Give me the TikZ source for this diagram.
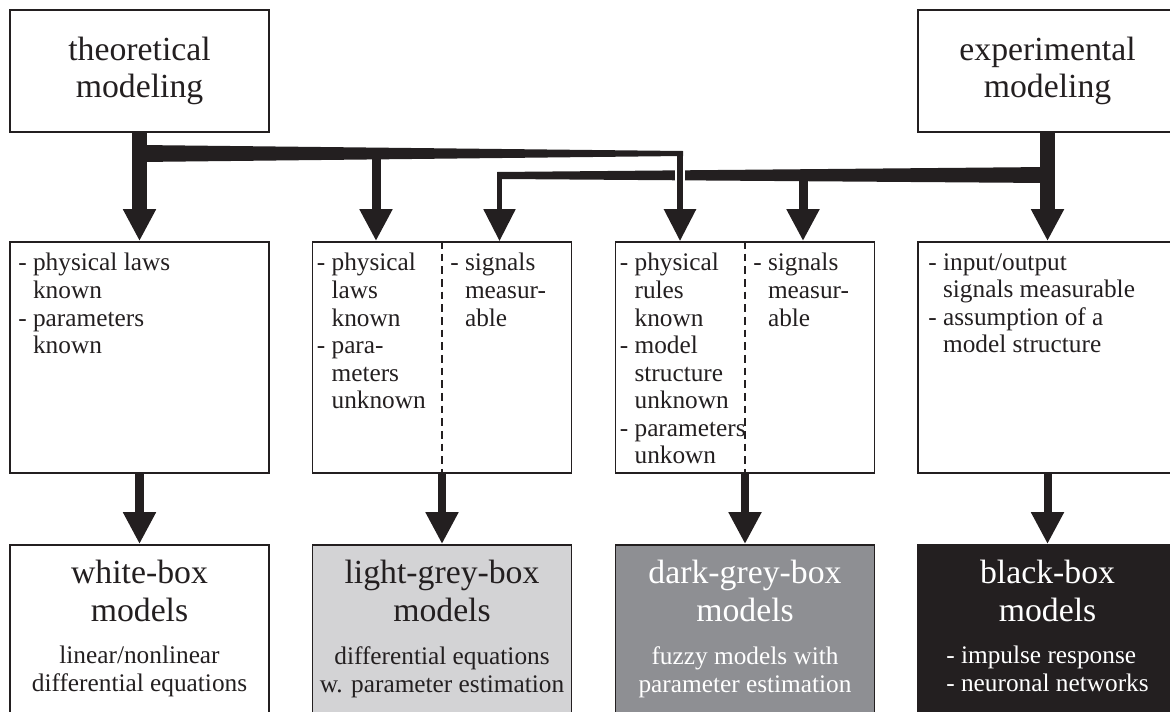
\documentclass[tikz,border=0pt]{standalone}
\usepackage{fontspec}
\setmainfont{Liberation Serif}
\usepackage{tikz}
\usetikzlibrary{calc,arrows.meta}
\definecolor{ink}{RGB}{35,31,32}
\definecolor{lightgrey}{RGB}{211,211,213}
\definecolor{darkgrey}{RGB}{142,143,147}
\newcommand*{\ind}{\hphantom{- }}
\tikzset{%
  box/.style={draw=ink, line width=1.3, rectangle, inner sep=0pt, minimum width=6.475cm},% every box
  source/.style={box, minimum height=3.05cm, align=center, text=ink, font=\fontsize{24}{26.5}\selectfont},% modeling kind
  facts/.style={box, minimum height=5.775cm},% what is known
  result/.style={box, minimum height=5cm},% model class
  listtext/.style={anchor=north west, inner sep=0pt, align=left, text=ink, font=\fontsize{18}{19.6}\selectfont},
  boxname/.style={anchor=north, inner sep=0pt, align=center, font=\fontsize{24}{27}\selectfont},
  boxnote/.style={anchor=north, inner sep=0pt, align=center, font=\fontsize{18}{19.8}\selectfont},
  divider/.style={draw=ink, line width=1, dash pattern=on 5.5pt off 3.5pt},
  flow/.style={draw=ink, -{Triangle[width=22pt,length=22.7pt]}}% thick arrows
}

\begin{document}
\begin{tikzpicture}[x=0.025cm, y=-0.025cm]
\clip (0,0) rectangle (1170,711);

\node[source] (theo) at (139.5, 71) {theoretical\\modeling};
\node[source] (exper) at (1047.5, 71) {experimental\\modeling};

\node[facts] (b1) at (139.5, 357.5) {};
\node[facts] (b2) at (442, 357.5) {};
\node[facts] (b3) at (745, 357.5) {};
\node[facts] (b4) at (1047.5, 357.5) {};
\draw[divider] (b2.north) -- (b2.south);
\draw[divider] (b3.north) -- (b3.south);

\node[listtext] (k1) at ($(b1.north west)+(9,12)$) {- physical laws\\\ind known\\- parameters\\\ind known};
\node[listtext] (k2) at ($(b2.north west)+(5,12)$) {- physical\\\ind laws\\\ind known\\- para-\\\ind meters\\\ind unknown};
\node[listtext] (s2) at ($(b2.north)+(8,12)$) {- signals\\\ind measur-\\\ind able};
\node[listtext] (k3) at ($(b3.north west)+(5,12)$) {- physical\\\ind rules\\\ind known\\- model\\\ind structure\\\ind unknown\\- parameters\\\ind unkown};
\node[listtext] (s3) at ($(b3.north)+(8,12)$) {- signals\\\ind measur-\\\ind able};
\node[listtext] (k4) at ($(b4.north west)+(11,12)$) {- input/output\\\ind signals measurable\\- assumption of a\\\ind model structure};

\node[result] (w1) at (139.5, 645) {};
\node[result, fill=lightgrey] (w2) at (442, 645) {};
\node[result, fill=darkgrey] (w3) at (745, 645) {};
\node[result, fill=ink] (w4) at (1047.5, 645) {};

\node[boxname, text=ink] (n1) at ($(w1.north)+(0,16)$) {white-box\\models};
\node[boxname, text=ink] (n2) at ($(w2.north)+(0,16)$) {light-grey-box\\models};
\node[boxname, text=white] (n3) at ($(w3.north)+(0,16)$) {dark-grey-box\\models};
\node[boxname, text=white] (n4) at ($(w4.north)+(0,16)$) {black-box\\models};
\node[boxnote, text=ink] (m1) at ($(w1.north)+(0,102)$) {linear/nonlinear\\differential equations};
\node[boxnote, text=ink] (m2) at ($(w2.north)+(0,102)$) {differential equations\\w. parameter estimation};
\node[boxnote, text=white] (m3) at ($(w3.north)+(0,102)$) {fuzzy models with\\parameter estimation};
\node[boxnote, text=white, align=left] (m4) at ($(w4.north)+(0,102)$) {- impulse response\\- neuronal networks};

% junctions on the two bars
\coordinate (t1) at (140,153);
\coordinate (t2) at (376,153);
\coordinate (t3) at (680,151);
\coordinate (e1) at (1048,175);
\coordinate (e2) at (803,175);
\coordinate (e3) at (499.5,172);

\fill[ink] ($(t1)+(0,-8)$) -- ($(t3)+(3,0)$) -- ($(t3)+(3,5)$) -- ($(t1)+(0,9)$) -- cycle;
\fill[ink] ($(e3)+(-2.5,0)$) -- ($(e1)+(0,-8)$) -- ($(e1)+(0,8)$) -- ($(e3)+(2.5,7)$) -- cycle;

\draw[flow, line width=10] (theo) -- (b1);
\draw[flow, line width=6.4] (t2) -- (t2 |- b2.north);
\draw[flow, line width=3.8] (e3) -- (e3 |- b2.north);
\draw[white, line width=7] ($(t3)+(0,13)$) -- ($(t3)+(0,36)$);
\draw[flow, line width=4.2] (t3) -- (t3 |- b3.north);
\draw[flow, line width=6.4] (e2) -- (e2 |- b3.north);
\draw[flow, line width=10.5] (exper) -- (b4);

\draw[flow, line width=5.7] (b1) -- (w1);
\draw[flow, line width=5.7] (b2) -- (w2);
\draw[flow, line width=5.7] (b3) -- (w3);
\draw[flow, line width=5.7] (b4) -- (w4);
\end{tikzpicture}
\end{document}
